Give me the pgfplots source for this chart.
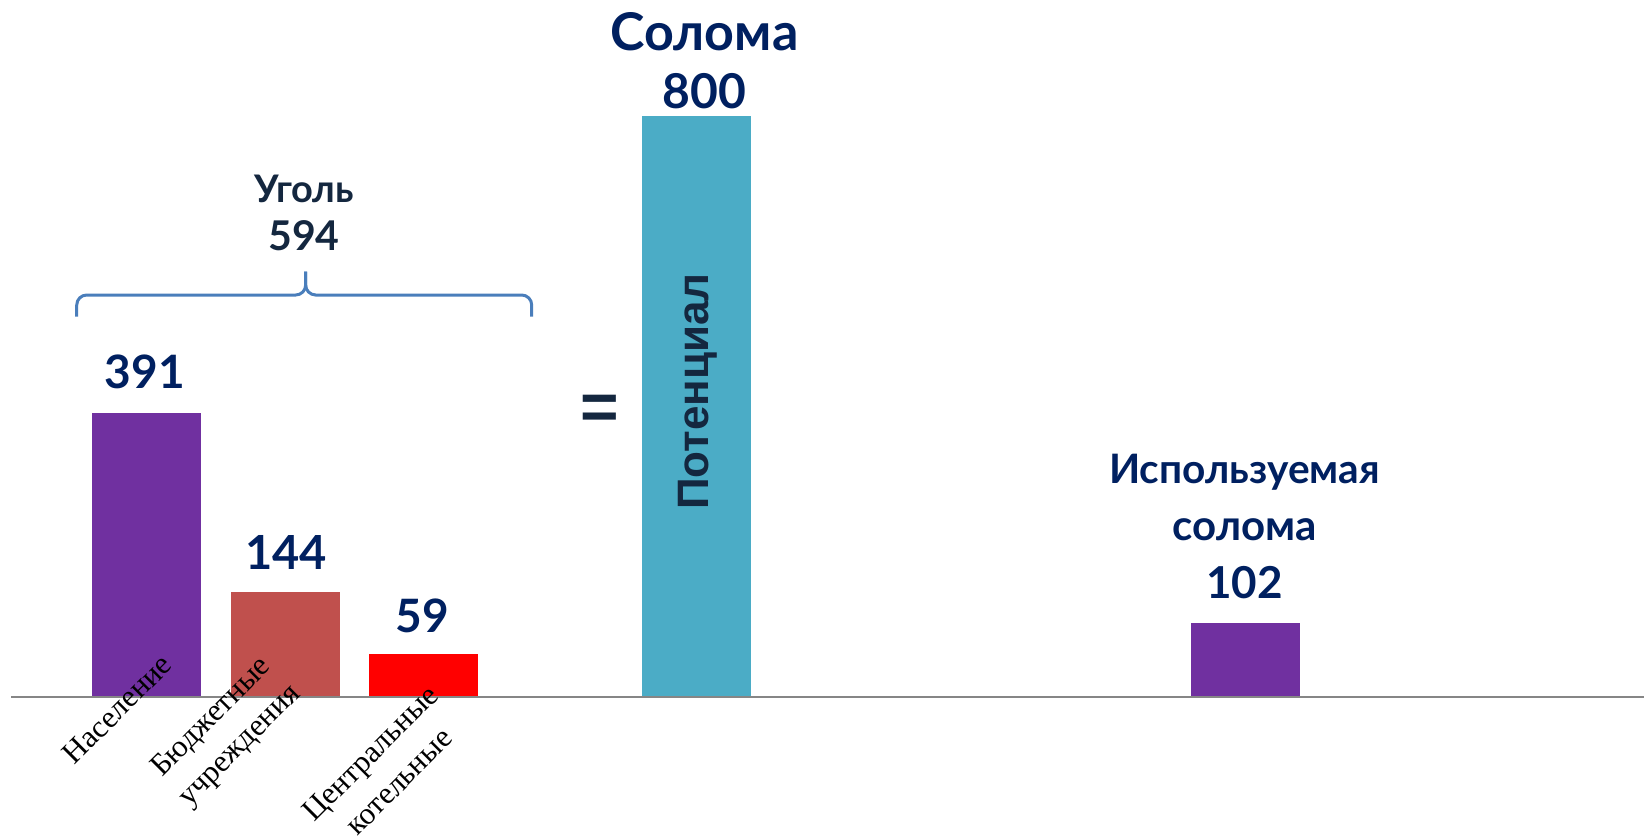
\documentclass[border=0pt]{standalone}
\usepackage{pgfplots}
\pgfplotsset{compat=1.18}
\usepackage{fontspec}
\setmainfont{Liberation Serif}
\newfontfamily\lato{Lato}
\newfontfamily\arial{Liberation Sans}
\definecolor{cPurple}{HTML}{7030A0}
\definecolor{cBrown}{HTML}{C0504D}
\definecolor{cRed}{HTML}{FF0000}
\definecolor{cTeal}{HTML}{4BACC6}
\definecolor{navy}{HTML}{002060}
\definecolor{darknavy}{HTML}{14273F}
\definecolor{braceblue}{HTML}{4A7EBB}
\definecolor{axgray}{HTML}{868686}
\begin{document}
\begin{tikzpicture}
\begin{axis}[
  width=822pt, height=420pt, scale only axis,
  xmin=-1.060, xmax=10.810, ymin=-197.3, ymax=959.3,
  hide axis, clip=false,
]
\path (rel axis cs:0,0) rectangle (rel axis cs:1,1);
\addplot[ybar, bar width=0.787, fill=cPurple, draw=none] coordinates {(0,391)};
\addplot[ybar, bar width=0.787, fill=cBrown, draw=none] coordinates {(1,144)};
\addplot[ybar, bar width=0.787, fill=cRed, draw=none] coordinates {(2,59)};
\addplot[ybar, bar width=0.787, fill=cTeal, draw=none] coordinates {(3.97,800)};
\addplot[ybar, bar width=0.787, fill=cPurple, draw=none] coordinates {(7.93,102)};
\draw[color=axgray, line width=1pt] (axis cs:-0.98,0) -- (axis cs:10.81,0);
% value labels
\node[font=\lato\bfseries\fontsize{23}{27}\selectfont, text=navy] at (axis cs:-0.015,446.8) {391};
\node[font=\lato\bfseries\fontsize{23.5}{27}\selectfont, text=navy] at (axis cs:1.006,198.4) {144};
\node[font=\lato\bfseries\fontsize{23}{27}\selectfont, text=navy] at (axis cs:1.99,111.8) {59};
\node[font=\lato\bfseries\fontsize{26}{30}\selectfont, text=navy] at (axis cs:4.027,915.8) {Солома};
\node[font=\lato\bfseries\fontsize{24}{28}\selectfont, text=navy] at (axis cs:4.027,833.7) {800};
\node[font=\lato\bfseries\fontsize{19}{22}\selectfont, text=darknavy] at (axis cs:1.135,699.4) {Уголь};
\node[font=\lato\bfseries\fontsize{20.5}{24}\selectfont, text=darknavy] at (axis cs:1.135,634.4) {594};
\node[font=\lato\bfseries\fontsize{20.3}{23}\selectfont, text=navy] at (axis cs:7.926,309.6) {Используемая};
\node[font=\lato\bfseries\fontsize{21}{23}\selectfont, text=navy] at (axis cs:7.926,230.1) {солома};
\node[font=\lato\bfseries\fontsize{22}{26}\selectfont, text=navy] at (axis cs:7.926,156.6) {102};
\node[font=\arial\bfseries\fontsize{33}{33}\selectfont, text=darknavy] at (axis cs:3.27,392) {=};
\node[rotate=90, font=\arial\bfseries\fontsize{22}{26}\selectfont, text=darknavy] at (axis cs:3.978,420.1) {Потенциал};
% category labels
\node[rotate=45, align=center, font=\fontsize{15.5}{20}\selectfont] at (axis cs:-0.215,-17) {Население};
\node[rotate=45, align=center, font=\fontsize{15.5}{20}\selectfont] at (axis cs:0.574,-49) {Бюджетные\\учреждения};
\node[rotate=45, align=center, font=\fontsize{15.5}{20}\selectfont] at (axis cs:1.717,-97) {Центральные\\котельные};
% brace
\draw[braceblue, line width=1.5pt, rounded corners=5pt] (axis cs:-0.506,523.2) |- (axis cs:1.147,553.1) -- (axis cs:1.147,585.2);
\draw[braceblue, line width=1.5pt, rounded corners=5pt] (axis cs:2.779,523.2) |- (axis cs:1.147,553.1) -- (axis cs:1.147,585.2);
\end{axis}
\pgfresetboundingbox
\path (0,0) rectangle (822pt,420pt);
\end{tikzpicture}
\end{document}
